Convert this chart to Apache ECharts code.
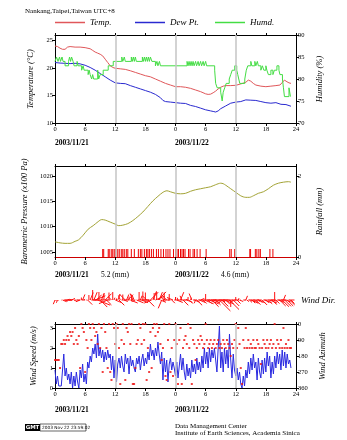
<!DOCTYPE html>
<html><head><meta charset="utf-8">
<script src="https://cdn.jsdelivr.net/npm/echarts@6/dist/echarts.min.js"></script>
<style>html,body{margin:0;padding:0;background:#fff}#c{width:347px;height:440px}</style>
</head><body><div id="c"></div>
<script>
// ---------- data ----------
const hourTicks = [0, 6, 12, 18, 24, 30, 36, 42, 48];
const dayDividers = [12, 24, 36];
const dateLabels = ['2003/11/21', '2003/11/22'];
const rainTotals = ['5.2 (mm)', '4.6 (mm)'];
const tempTicks = [10, 15, 20, 25];
const humTicks = [70, 75, 80, 85, 90];
const presTicks = [1005, 1010, 1015, 1020];
const rainTicks = [0, 2];
const speedTicks = [0, 1, 2, 3];
const azTicks = [0, 90, 180, 270, 360];

const temperature = [[0,24.0],[0.5,23.9],[1.0,23.6],[1.5,23.4],[2.0,23.4],[2.5,23.8],[3.0,23.9],[4.0,23.8],[5.0,23.8],[6.0,23.7],[7.0,23.5],[7.5,23.2],[8.0,22.9],[8.5,22.7],[9.0,22.5],[9.5,22.2],[10.0,21.6],[10.5,21.0],[11.0,20.4],[11.5,20.1],[12.0,19.95],[13.0,19.85],[14.0,19.75],[15.0,19.5],[16.0,19.2],[17.0,18.9],[18.0,18.6],[19.0,18.4],[20.0,18.0],[21.0,17.6],[22.0,17.2],[23.0,16.9],[24.0,16.6],[25.0,16.6],[26.0,16.5],[27.0,16.3],[28.0,16.0],[29.0,15.7],[30.0,15.3],[30.5,15.2],[31.0,15.25],[31.5,15.5],[32.0,15.8],[32.5,16.2],[33.0,16.5],[33.5,16.7],[34.0,16.8],[35.0,16.8],[36.0,16.85],[37.0,17.1],[38.0,17.4],[38.5,17.8],[39.0,17.6],[39.5,17.2],[40.0,16.9],[41.0,16.7],[42.0,16.6],[43.0,16.7],[44.0,16.8],[44.8,16.9],[45.3,17.4],[45.7,17.8],[46.2,17.5],[46.6,17.3],[47.0,17.2]];
const dewPoint = [[0,21.0],[1,20.9],[2,20.85],[3,20.8],[4,20.85],[5,20.75],[6,20.5],[7,20.1],[8,19.6],[9,19.0],[10,18.4],[11,17.8],[12,17.3],[13,17.2],[14,17.15],[15,16.8],[16,16.5],[17,16.2],[18,15.9],[19,15.6],[20,15.2],[21,14.6],[21.5,14.1],[22,13.9],[23,13.8],[24,13.7],[25,13.6],[26,13.55],[27,13.2],[28,13.0],[29,12.7],[30,12.4],[31,12.2],[31.5,12.1],[32,12.0],[32.5,12.2],[33,12.6],[34,13.1],[35,13.6],[36,13.8],[37,13.9],[38,14.2],[39,14.15],[40,14.1],[41,13.9],[42,13.7],[43,13.6],[44,13.7],[45,13.4],[46,13.35],[47,13.05]];
const humidity = [[0,84],[0.3,85],[0.6,84],[0.9,85],[1.1,84],[1.4,85],[1.6,84],[2.0,83],[2.7,84],[2.9,85],[3.1,84],[3.3,85],[3.6,84],[3.8,83],[4.4,84],[4.6,83],[5.3,82],[5.6,83],[5.8,82],[6.6,81],[6.8,82],[7.0,81],[7.3,80],[7.5,81],[7.7,80],[8.5,82],[8.7,80],[9.0,81],[9.6,82],[10.6,83],[11.6,84],[13.3,85],[13.5,84],[13.8,85],[14.0,84],[15.2,85],[15.4,84],[15.6,85],[15.8,84],[16.0,85],[16.2,84],[17.4,85],[17.6,84],[17.8,85],[18.0,84],[18.2,85],[18.4,84],[18.6,85],[18.8,84],[19.0,85],[19.3,84],[20.0,83],[20.3,84],[20.5,83],[20.8,84],[21.0,83],[26.3,84],[26.5,83],[26.7,84],[26.9,83],[27.1,84],[27.3,83],[27.5,84],[27.7,83],[28.0,84],[28.2,83],[28.5,84],[28.7,83],[29.0,84],[29.2,83],[29.5,84],[29.7,83],[30.0,84],[30.2,83],[31.8,82],[32.0,79],[32.3,78],[33.0,77],[33.3,75],[33.5,77],[33.8,78],[34.1,79],[34.7,80],[35.0,81],[35.3,82],[35.8,83],[36.2,82],[36.4,81],[36.6,80],[36.8,79],[37.8,80],[38.1,82],[38.4,83],[39.0,84],[39.2,83],[39.8,84],[40.0,83],[40.3,84],[40.5,83],[41.0,82],[41.3,83],[41.6,82],[42.0,83],[42.2,82],[42.5,81],[43.0,82],[43.4,81],[43.7,82],[44.2,83],[44.6,82],[44.8,81],[45.3,80],[45.5,78],[45.7,76],[46.6,78],[46.9,76],[47.0,76]];
const pressure = [[0,1007.0],[1,1006.8],[2,1006.7],[3,1006.7],[4,1007.1],[4.7,1007.4],[5.6,1008.3],[6.6,1009.5],[7.6,1010.2],[8.6,1011.0],[9.3,1011.4],[10.0,1011.3],[11.0,1010.9],[12.0,1010.5],[12.7,1010.2],[13.5,1010.3],[14.5,1010.6],[15.5,1011.2],[16.5,1012.0],[17.5,1012.9],[18.5,1014.0],[19.5,1015.1],[20.5,1016.0],[21.5,1016.8],[22.3,1017.1],[23.0,1016.9],[24.0,1016.6],[25.0,1016.5],[26.0,1016.6],[27.0,1017.0],[28.0,1017.3],[29.0,1017.5],[30.0,1017.7],[31.0,1017.9],[32.0,1018.3],[33.0,1018.6],[33.5,1018.5],[34.0,1018.2],[35.0,1017.5],[36.0,1016.8],[37.0,1016.1],[38.0,1015.8],[38.7,1015.8],[39.5,1016.1],[40.5,1016.6],[41.5,1016.9],[42.5,1017.5],[43.5,1018.2],[44.5,1018.6],[45.5,1018.8],[46.5,1018.9],[47.0,1018.8]];
const rainfall = [[9.5,0.2],[9.7,0.2],[10.6,0.2],[10.8,0.2],[11.2,0.2],[11.5,0.2],[11.8,0.2],[12.1,0.2],[12.5,0.2],[12.8,0.2],[13.2,0.2],[13.5,0.2],[13.8,0.2],[14.2,0.2],[14.5,0.2],[15.2,0.2],[15.8,0.2],[16.6,0.2],[17.0,0.2],[17.3,0.2],[17.8,0.2],[18.2,0.2],[18.5,0.2],[18.8,0.2],[19.2,0.2],[19.6,0.2],[20.2,0.2],[20.6,0.2],[21.1,0.2],[21.6,0.2],[22.1,0.2],[22.5,0.2],[22.9,0.2],[23.6,0.2],[24.0,0.2],[24.3,0.2],[24.6,0.2],[25.0,0.2],[25.3,0.2],[25.6,0.2],[25.9,0.2],[26.6,0.2],[26.9,0.2],[27.5,0.2],[27.8,0.2],[28.3,0.2],[28.9,0.2],[30.1,0.2],[34.8,0.2],[35.1,0.2],[35.8,0.2],[38.8,0.2],[38.95,0.2],[39.9,0.2],[40.2,0.2],[40.6,0.2],[40.9,0.2],[42.8,0.2],[43.4,0.2]];
const windStart = 0, windStep = 0.25;
const windSpeed = [0.9,0.2,0.6,0.1, 0.0,0.1,0.9,1.7, 0.6,1.0,0.4,0.7, 0.2,0.8,0.0,0.6, 0.1,0.8,0.3,0.0, 0.9,0.5,1.2,0.3,
 0.7,0.2,1.3,1.0, 1.6,1.3,2.0,1.7, 2.2,1.5,2.7,1.6, 2.0,1.5,1.9,1.3, 1.8,1.4,1.9,1.5, 1.7,0.9,1.6,0.5,
 1.4,0.3,1.2,1.5, 1.0,1.6,1.1,0.8, 1.7,1.2,1.5,0.7, 1.6,1.1,1.4,1.0, 0.8,1.5,1.2,1.6, 0.9,1.4,1.7,1.1,
 1.5,1.2,1.8,1.4, 2.2,1.6,1.9,1.4, 2.0,1.6,2.3,1.7, 1.2,1.8,0.4,1.5, 0.8,1.4,0.3,1.2, 1.5,0.9,1.3,1.0,
 0.6,1.3,0.5,1.1, 1.7,0.9,1.5,0.8, 0.4,1.2,0.6,1.0, 0.5,1.4,0.8,1.2, 0.7,1.5,0.9,1.3, 0.8,1.6,1.0,2.0,
 1.2,1.8,1.0,2.0, 1.3,1.9,1.5,2.0, 1.4,0.8,2.0,3.1, 1.0,1.8,0.8,2.0, 1.2,1.9,1.0,2.7, 1.4,0.5,1.7,0.9,
 0.6,1.0,0.4,0.8, 0.2,0.0,0.6,0.1, 0.9,0.5,1.3,0.7, 1.5,0.9,1.7,1.0, 1.3,0.4,1.5,0.8, 0.5,1.4,0.7,1.5,
 0.8,1.8,1.1,1.6, 0.5,1.3,0.7,1.6, 1.0,1.8,1.2,1.7, 0.9,1.9,1.1,1.8, 1.0,1.7,1.2,1.4, 1.0];
const windAzimuth = [202.5,202.5,202.5,202.5, 247.5,112.5,112.5,90, 112.5,90,67.5,90, 45,67.5,45,112.5, 22.5,90,112.5,67.5, 247.5,0,22.5,45,
 270,90,135,0, 22.5,90,0,22.5, 67.5,45,112.5,0, 135,22.5,270,0, 45,135,247.5,0, 270,315,0,22.5,
 112.5,0,22.5,135, 337.5,90,0,112.5, 315,22.5,45,0, 112.5,0,337.5,337.5, 247.5,112.5,90,0, 22.5,112.5,0,90,
 0,315,135,270, 45,247.5,22.5,0, 67.5,0,45,22.5, 112.5,202.5,135,0, 292.5,315,90,0, 270,135,292.5,90,
 0,112.5,337.5,90, 22.5,337.5,135,90, 67.5,112.5,0,135, 22.5,337.5,90,112.5, 202.5,135,90,112.5, 67.5,90,135,112.5,
 0,90,135,112.5, 90,135,112.5,90, 135,112.5,90,135, 112.5,135,90,112.5, 135,90,112.5,135, 180,112.5,135,90,
 0,135,22.5,112.5, 247.5,337.5,90,135, 22.5,135,90,135, 112.5,135,90,135, 135,90,112.5,135, 225,135,90,112.5,
 135,90,135,112.5, 90,135,112.5,0, 135,90,112.5,135, 90,135,22.5,135, 112.5,135,90,135, 135];

// ---------- build ----------
const windTimes = windSpeed.map((_, i) => windStart + i * windStep);
const speedData = windSpeed.map((s, i) => [windTimes[i], s]);
const azData = windAzimuth.map((a, i) => [windTimes[i], a]);
const stickData = windSpeed.map((s, i) => [windTimes[i], s, windAzimuth[i]]);

const FONT = 'Liberation Serif';
const BLACK = '#000';
const hourFmt = v => (v === 48 ? '24' : String(v % 24));
const plainFmt = v => String(v);

function xBottom(grid, lineColor) {
  return {
    type: 'value', gridIndex: grid, min: 0, max: 48, position: 'bottom',
    axisLine: { show: true, onZero: false, lineStyle: { color: lineColor || BLACK, width: 1 } },
    axisTick: { show: true, length: 3, customValues: hourTicks, lineStyle: { color: BLACK } },
    axisLabel: { show: true, customValues: hourTicks, formatter: hourFmt, fontFamily: FONT, fontSize: 6.5, color: BLACK, margin: 3 },
    splitLine: { show: false }
  };
}
function xTop(grid) {
  return {
    type: 'value', gridIndex: grid, min: 0, max: 48, position: 'top',
    axisLine: { show: true, onZero: false, lineStyle: { color: BLACK, width: 1 } },
    axisTick: { show: true, length: 2, customValues: hourTicks, lineStyle: { color: BLACK } },
    axisLabel: { show: false }, splitLine: { show: false }
  };
}
function yAx(grid, pos, min, max, ticks, name, gap, inverse) {
  return {
    type: 'value', gridIndex: grid, position: pos, min: min, max: max, inverse: !!inverse,
    name: name, nameLocation: 'middle', nameGap: gap, nameRotate: 90,
    nameTextStyle: { fontFamily: FONT, fontStyle: 'italic', fontSize: 8.5, color: BLACK },
    axisLine: { show: true, onZero: false, lineStyle: { color: BLACK, width: 1 } },
    axisTick: { show: true, length: 3, customValues: ticks, lineStyle: { color: BLACK } },
    axisLabel: { show: true, customValues: ticks, formatter: plainFmt, fontFamily: FONT, fontSize: 6.5, color: BLACK, margin: 2 },
    splitLine: { show: false }
  };
}
const divider = {
  silent: true, symbol: 'none', label: { show: false },
  lineStyle: { color: '#c4c4c4', width: 1.5, type: 'solid' },
  data: dayDividers.map(d => ({ xAxis: d }))
};

const chart = echarts.init(document.getElementById('c'), null, { renderer: 'canvas' });

function txt(x, y, text, opt) {
  return { type: 'text', x: x, y: y, style: Object.assign({ text: text, fontFamily: FONT, fontSize: 7, fill: BLACK, textVerticalAlign: 'middle' }, opt || {}) };
}
function legendAt(left, name) {
  return { left: left, top: 18, padding: 0, icon: 'rect', itemWidth: 30, itemHeight: 1.5, selectedMode: false, data: [name],
    textStyle: { fontFamily: FONT, fontStyle: 'italic', fontSize: 9, color: BLACK } };
}

chart.setOption({
  animation: false,
  backgroundColor: '#fff',
  grid: [
    { left: 55, right: 51, top: 35, height: 88 },
    { left: 55, right: 51, top: 166, height: 91 },
    { left: 55, right: 51, top: 289, height: 22 },
    { left: 55, right: 51, top: 324, height: 64 }
  ],
  legend: [legendAt(55, 'Temp.'), legendAt(135, 'Dew Pt.'), legendAt(215, 'Humd.')],
  xAxis: [
    xBottom(0), xTop(0),
    xBottom(1, '#cc0000'), xTop(1),
    { type: 'value', gridIndex: 2, min: 0, max: 48, show: false },
    xBottom(3), xTop(3)
  ],
  yAxis: [
    yAx(0, 'left', 10, 26, tempTicks, 'Temperature (°C)', 17),
    yAx(0, 'right', 70, 90, humTicks, 'Humidity (%)', 19),
    yAx(1, 'left', 1004, 1022, presTicks, 'Barometric Pressure (x100 Pa)', 20),
    yAx(1, 'right', 0, 2.25, rainTicks, 'Rainfall (mm)', 19),
    { type: 'value', gridIndex: 2, min: -1, max: 1, show: false },
    yAx(3, 'left', 0, 3.2, speedTicks, 'Wind Speed (m/s)', 17),
    yAx(3, 'right', 0, 360, azTicks, 'Wind Azimuth', 20, true)
  ],
  series: [
    { name: 'Temp.', type: 'line', xAxisIndex: 0, yAxisIndex: 0, data: temperature, symbol: 'none', z: 3,
      lineStyle: { color: '#e0575a', width: 1 }, itemStyle: { color: '#e0575a' }, markLine: divider },
    { name: 'Dew Pt.', type: 'line', xAxisIndex: 0, yAxisIndex: 0, data: dewPoint, symbol: 'none', z: 3,
      lineStyle: { color: '#2a2ad0', width: 1 }, itemStyle: { color: '#2a2ad0' } },
    { name: 'Humd.', type: 'line', xAxisIndex: 0, yAxisIndex: 1, data: humidity, symbol: 'none', step: 'end', z: 3,
      lineStyle: { color: '#44dd44', width: 1 }, itemStyle: { color: '#44dd44' } },
    { name: 'Pressure', type: 'line', xAxisIndex: 2, yAxisIndex: 2, data: pressure, symbol: 'none', smooth: 0.3, z: 3,
      lineStyle: { color: '#a3a335', width: 1 }, markLine: divider },
    { name: 'Rain', type: 'bar', xAxisIndex: 2, yAxisIndex: 3, data: rainfall, barWidth: 1, z: 3,
      itemStyle: { color: '#ee0000' } },
    { name: 'WindDir', type: 'custom', xAxisIndex: 4, yAxisIndex: 4, data: stickData, z: 3,
      renderItem: function (params, api) {
        const p = api.coord([api.value(0), 0]);
        const L = api.value(1) * 5;
        const a = api.value(2) * Math.PI / 180;
        return { type: 'line', shape: { x1: p[0], y1: p[1], x2: p[0] + Math.sin(a) * L, y2: p[1] - Math.cos(a) * L },
          style: { stroke: '#ff1010', lineWidth: 1 } };
      } },
    { name: 'Speed', type: 'line', xAxisIndex: 5, yAxisIndex: 5, data: speedData, symbol: 'none', z: 3,
      lineStyle: { color: '#2a2ae0', width: 1 }, markLine: divider },
    { name: 'Azimuth', type: 'scatter', xAxisIndex: 5, yAxisIndex: 6, data: azData, symbol: 'rect', symbolSize: 2, z: 4,
      itemStyle: { color: '#ee1010' } }
  ],
  graphic: [
    txt(25, 11, 'Nankang,Taipei,Taiwan UTC+8', { fontSize: 7 }),
    txt(55, 143, dateLabels[0], { fontWeight: 'bold', fontSize: 7.5 }),
    txt(175, 143, dateLabels[1], { fontWeight: 'bold', fontSize: 7.5 }),
    txt(55, 275, dateLabels[0], { fontWeight: 'bold', fontSize: 7.5 }),
    txt(175, 275, dateLabels[1], { fontWeight: 'bold', fontSize: 7.5 }),
    txt(115, 275, rainTotals[0], { fontSize: 7.5, textAlign: 'center' }),
    txt(235, 275, rainTotals[1], { fontSize: 7.5, textAlign: 'center' }),
    txt(55, 410, dateLabels[0], { fontWeight: 'bold', fontSize: 7.5 }),
    txt(175, 410, dateLabels[1], { fontWeight: 'bold', fontSize: 7.5 }),
    txt(301, 301, 'Wind Dir.', { fontSize: 9, fontStyle: 'italic' }),
    { type: 'rect', shape: { x: 25, y: 424, width: 15, height: 7 }, style: { fill: '#000' } },
    txt(32.5, 427.5, 'GMT', { fontSize: 5.5, fontWeight: 'bold', fill: '#fff', textAlign: 'center', fontFamily: 'DejaVu Sans' }),
    { type: 'rect', shape: { x: 40, y: 424, width: 46, height: 7 }, style: { fill: '#fff', stroke: '#000', lineWidth: 0.6 } },
    txt(42, 427.5, '2003 Nov 22 23:59:02', { fontSize: 4.3, fontFamily: 'DejaVu Sans' }),
    txt(175, 426, 'Data Management Center', { fontSize: 7 }),
    txt(175, 433.5, 'Institute of Earth Sciences, Academia Sinica', { fontSize: 7 })
  ]
});
</script></body></html>
